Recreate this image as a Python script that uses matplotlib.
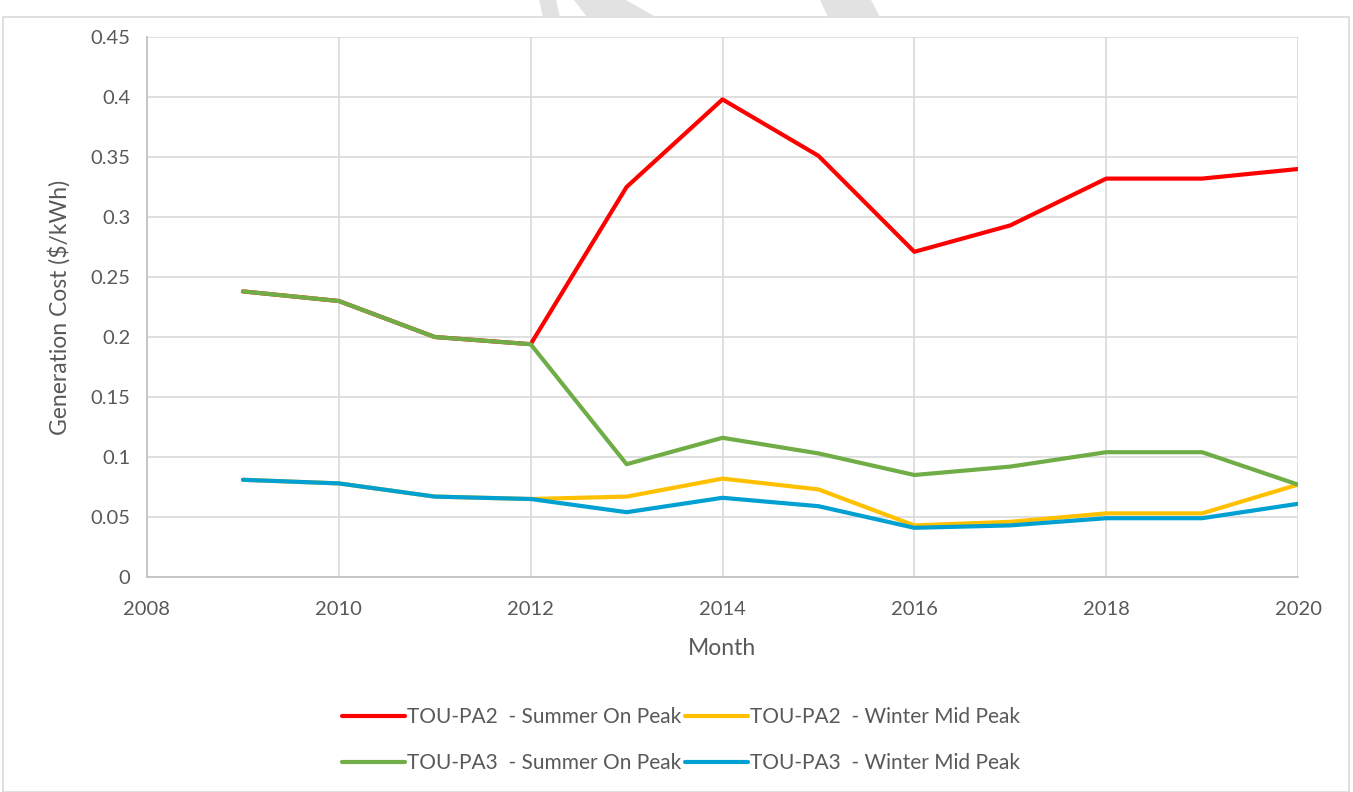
import matplotlib.pyplot as plt
from matplotlib.patches import Polygon, Rectangle

# ----- data -----
years = [2009, 2010, 2011, 2012, 2013, 2014, 2015, 2016, 2017, 2018, 2019, 2020]
pa2_summer = [0.238, 0.230, 0.200, 0.194, 0.325, 0.398, 0.351, 0.271, 0.293, 0.332, 0.332, 0.340]
pa2_winter = [0.081, 0.078, 0.067, 0.065, 0.067, 0.082, 0.073, 0.043, 0.046, 0.053, 0.053, 0.077]
pa3_summer = [0.238, 0.230, 0.200, 0.194, 0.094, 0.116, 0.103, 0.085, 0.092, 0.104, 0.104, 0.077]
pa3_winter = [0.081, 0.078, 0.067, 0.065, 0.054, 0.066, 0.059, 0.041, 0.043, 0.049, 0.049, 0.061]

labels = ["TOU-PA2  - Summer On Peak", "TOU-PA2  - Winter Mid Peak",
          "TOU-PA3  - Summer On Peak", "TOU-PA3  - Winter Mid Peak"]
colors = ["#ff0000", "#ffc000", "#70ad47", "#00a0d2"]

W, H = 1353, 792
plt.rcParams['font.family'] = ['Lato', 'DejaVu Sans']
txt = "#595959"

fig = plt.figure(figsize=(W / 100, H / 100), dpi=100)
ax = fig.add_axes([147 / W, 1 - 577 / H, (1298 - 147) / W, (577 - 37) / H])

# chart border + faint watermark pieces at the top
fig.patches.append(Rectangle((3 / W, 0), 1346 / W, 1 - 17 / H, transform=fig.transFigure,
                             fill=False, edgecolor="#d9d9d9", linewidth=1.2))
for pts in [[(539, 0), (556, 0), (560, 17), (543, 17)],
            [(574, 0), (626, 0), (656, 17), (587, 17)],
            [(820, 0), (871, 0), (880, 17), (828, 17)]]:
    fig.patches.append(Polygon([(x / W, 1 - y / H) for x, y in pts], closed=True,
                               transform=fig.transFigure, facecolor="#e2e2e2", edgecolor="none"))

series = [pa2_summer, pa2_winter, pa3_summer, pa3_winter]
lines = []
for vals, lab, c in zip(series, labels, colors):
    ln, = ax.plot(years, vals, color=c, lw=3, label=lab, solid_capstyle='round')
    lines.append(ln)

ax.set_xlim(2008, 2020)
ax.set_ylim(0, 0.45)
ax.set_xticks(range(2008, 2021, 2))
ax.set_yticks([0, 0.05, 0.1, 0.15, 0.2, 0.25, 0.3, 0.35, 0.4, 0.45])
ax.set_yticklabels(["0", "0.05", "0.1", "0.15", "0.2", "0.25", "0.3", "0.35", "0.4", "0.45"])
ax.grid(True, color="#d9d9d9", lw=1.2)
ax.set_axisbelow(True)
for s in ["top", "right"]:
    ax.spines[s].set_visible(False)
for s in ["left", "bottom"]:
    ax.spines[s].set_color("#bfbfbf")
    ax.spines[s].set_linewidth(1.2)
ax.tick_params(length=0, labelsize=14.5, colors=txt)
ax.tick_params(axis='x', pad=17)
ax.tick_params(axis='y', pad=12)

ax.set_xlabel("Month", fontsize=16.5, color=txt, labelpad=15)
ax.set_ylabel("Generation Cost ($/kWh)", fontsize=16.5, color=txt, labelpad=14)

# legend filled row by row: (red, yellow) then (green, blue)
order = [0, 2, 1, 3]
fig.legend([lines[i] for i in order], [labels[i] for i in order],
           loc="center", bbox_to_anchor=(681 / W, 1 - 740 / H), ncol=2, frameon=False,
           fontsize=15, labelcolor=txt, handlelength=3.0, handletextpad=0.1,
           columnspacing=0.2, labelspacing=1.25)

fig.savefig("out.png", dpi=100)
